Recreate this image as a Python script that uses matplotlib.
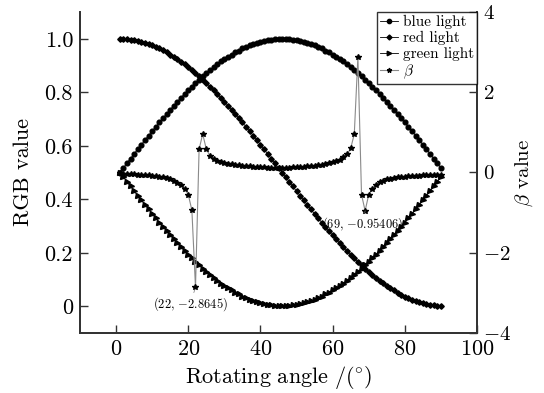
import matplotlib
matplotlib.use("Agg")
import matplotlib.pyplot as plt
from matplotlib.ticker import FixedLocator, FixedFormatter

plt.rcParams['font.family'] = ['cmr10', 'DejaVu Serif']
plt.rcParams['mathtext.fontset'] = 'cm'
plt.rcParams['axes.formatter.use_mathtext'] = True
plt.rcParams['axes.unicode_minus'] = False

angle = list(range(1, 91))

blue_light = [0.500, 0.517, 0.535, 0.552, 0.570, 0.587, 0.604, 0.621, 0.638, 0.655,
              0.671, 0.687, 0.703, 0.719, 0.735, 0.750, 0.765, 0.780, 0.794, 0.808,
              0.821, 0.835, 0.847, 0.860, 0.872, 0.883, 0.894, 0.905, 0.915, 0.924,
              0.933, 0.941, 0.949, 0.956, 0.964, 0.970, 0.976, 0.981, 0.985, 0.989,
              0.992, 0.995, 0.997, 0.999, 1.000, 1.000, 1.000, 0.999, 0.997, 0.995,
              0.992, 0.989, 0.985, 0.981, 0.976, 0.970, 0.964, 0.956, 0.949, 0.941,
              0.933, 0.924, 0.915, 0.905, 0.894, 0.883, 0.872, 0.860, 0.847, 0.835,
              0.821, 0.808, 0.794, 0.780, 0.765, 0.750, 0.735, 0.719, 0.703, 0.687,
              0.671, 0.655, 0.638, 0.621, 0.604, 0.587, 0.570, 0.552, 0.535, 0.517]

red_light = [1.000, 1.000, 0.999, 0.997, 0.995, 0.992, 0.989, 0.985, 0.981, 0.976,
             0.970, 0.964, 0.957, 0.949, 0.941, 0.933, 0.924, 0.914, 0.905, 0.894,
             0.883, 0.872, 0.860, 0.847, 0.835, 0.821, 0.808, 0.794, 0.780, 0.765,
             0.750, 0.735, 0.719, 0.703, 0.687, 0.671, 0.655, 0.638, 0.621, 0.604,
             0.587, 0.570, 0.552, 0.535, 0.517, 0.500, 0.483, 0.465, 0.448, 0.430,
             0.413, 0.396, 0.379, 0.362, 0.345, 0.329, 0.313, 0.297, 0.281, 0.265,
             0.250, 0.235, 0.220, 0.206, 0.192, 0.179, 0.165, 0.153, 0.140, 0.128,
             0.117, 0.106, 0.095, 0.086, 0.076, 0.067, 0.059, 0.051, 0.043, 0.036,
             0.030, 0.024, 0.019, 0.015, 0.011, 0.008, 0.005, 0.003, 0.001, 0.000]

green_light = [0.500, 0.483, 0.465, 0.448, 0.430, 0.413, 0.396, 0.379, 0.362, 0.345,
               0.329, 0.313, 0.297, 0.281, 0.265, 0.250, 0.235, 0.220, 0.206, 0.192,
               0.179, 0.165, 0.153, 0.140, 0.128, 0.117, 0.106, 0.095, 0.085, 0.076,
               0.067, 0.059, 0.051, 0.044, 0.036, 0.030, 0.024, 0.019, 0.015, 0.011,
               0.008, 0.005, 0.003, 0.001, 0.000, 0.000, 0.000, 0.001, 0.003, 0.005,
               0.008, 0.011, 0.015, 0.019, 0.024, 0.030, 0.036, 0.044, 0.051, 0.059,
               0.067, 0.076, 0.085, 0.095, 0.106, 0.117, 0.128, 0.140, 0.153, 0.165,
               0.179, 0.192, 0.206, 0.220, 0.235, 0.250, 0.265, 0.281, 0.297, 0.313,
               0.329, 0.345, 0.362, 0.379, 0.396, 0.413, 0.430, 0.448, 0.465, 0.483]

beta = [-0.02, -0.03, -0.03, -0.04, -0.04, -0.05, -0.05, -0.06, -0.07, -0.08,
        -0.09, -0.10, -0.12, -0.14, -0.17, -0.20, -0.25, -0.31, -0.40, -0.55,
        -0.94, -2.8645, 0.58, 0.96, 0.58, 0.42, 0.34, 0.29, 0.26, 0.24,
        0.22, 0.20, 0.19, 0.18, 0.17, 0.16, 0.15, 0.14, 0.14, 0.13,
        0.13, 0.12, 0.12, 0.12, 0.12, 0.12, 0.12, 0.12, 0.13, 0.13,
        0.14, 0.14, 0.15, 0.16, 0.17, 0.18, 0.19, 0.21, 0.23, 0.25,
        0.28, 0.32, 0.38, 0.45, 0.60, 0.96, 2.88, -0.55, -0.95406, -0.55,
        -0.40, -0.30, -0.24, -0.20, -0.17, -0.15, -0.13, -0.12, -0.11, -0.10,
        -0.09, -0.09, -0.08, -0.08, -0.07, -0.07, -0.06, -0.06, -0.05, -0.05]

x_ticks = [0, 20, 40, 60, 80, 100]
y_ticks = [0, 0.2, 0.4, 0.6, 0.8, 1.0]
y_tick_labels = ['0', '0.2', '0.4', '0.6', '0.8', '1.0']
b_ticks = [-4, -2, 0, 2, 4]
b_tick_labels = [r'$-4$', r'$-2$', r'$0$', r'$2$', r'$4$']
annotations = [(22, -2.8645, '(22, $-$2.8645)'), (69, -0.95406, '(69, $-$0.95406)')]

fig = plt.figure(figsize=(5.44, 3.93), dpi=100)
ax = fig.add_axes([80/544, 1-333/393, (477-80)/544, (333-12)/393])
ax2 = ax.twinx()

spine_c = '#333333'
ax.plot(angle, blue_light, color='black', lw=0.6, marker='o', ms=3.4, label='blue light')
ax.plot(angle, red_light, color='black', lw=0.6, marker='D', ms=2.8, label='red light')
ax.plot(angle, green_light, color='black', lw=0.6, marker='>', ms=3.6, label='green light')
ax2.plot(angle, beta, color='#8a8a8a', lw=0.8, marker='*', ms=3.8, mfc='black', mec='black',
         label=r'$\beta$')

ax.set_xlim(-10, 100)
ax.set_ylim(-0.1, 1.1)
ax2.set_ylim(-4, 4)

ax.xaxis.set_major_locator(FixedLocator(x_ticks))
ax.yaxis.set_major_locator(FixedLocator(y_ticks))
ax.yaxis.set_major_formatter(FixedFormatter(y_tick_labels))
ax2.yaxis.set_major_locator(FixedLocator(b_ticks))
ax2.yaxis.set_major_formatter(FixedFormatter(b_tick_labels))

ax.tick_params(direction='in', length=6, width=1.0, color=spine_c, labelsize=16, pad=5)
ax2.tick_params(direction='in', length=6, width=1.0, color=spine_c, labelsize=15, pad=4)
for a in (ax, ax2):
    for s in a.spines.values():
        s.set_color(spine_c)
        s.set_linewidth(1.3)
ax.spines['top'].set_visible(False)
ax2.spines['top'].set_visible(False)

ax.set_xlabel(r'$\mathrm{Rotating\ angle\ /(^{\circ})}$', fontsize=16, labelpad=3)
ax.set_ylabel('RGB value', fontsize=16, labelpad=8)
ax2.set_ylabel(r'$\beta$ value', fontsize=15, labelpad=2)

for (xa, ya, txt), (dx, dy) in zip(annotations, [(-1.5, -0.42), (-0.6, -0.34)]):
    ax2.annotate(txt, xy=(xa, ya), xytext=(xa + dx, ya + dy), fontsize=9,
                 ha='center', va='center',
                 arrowprops=dict(arrowstyle='-', color='#777777', lw=0.5, shrinkA=5, shrinkB=2))

h1, l1 = ax.get_legend_handles_labels()
h2, l2 = ax2.get_legend_handles_labels()
leg = ax2.legend(h1 + h2, l1 + l2, loc='upper right', fontsize=11, frameon=True,
                 fancybox=False, edgecolor='black', borderaxespad=0.0, handlelength=1.2,
                 handletextpad=0.3, labelspacing=0.12, borderpad=0.2, markerscale=0.9)
leg.get_frame().set_linewidth(1.0)

fig.savefig('out.png', dpi=100)
